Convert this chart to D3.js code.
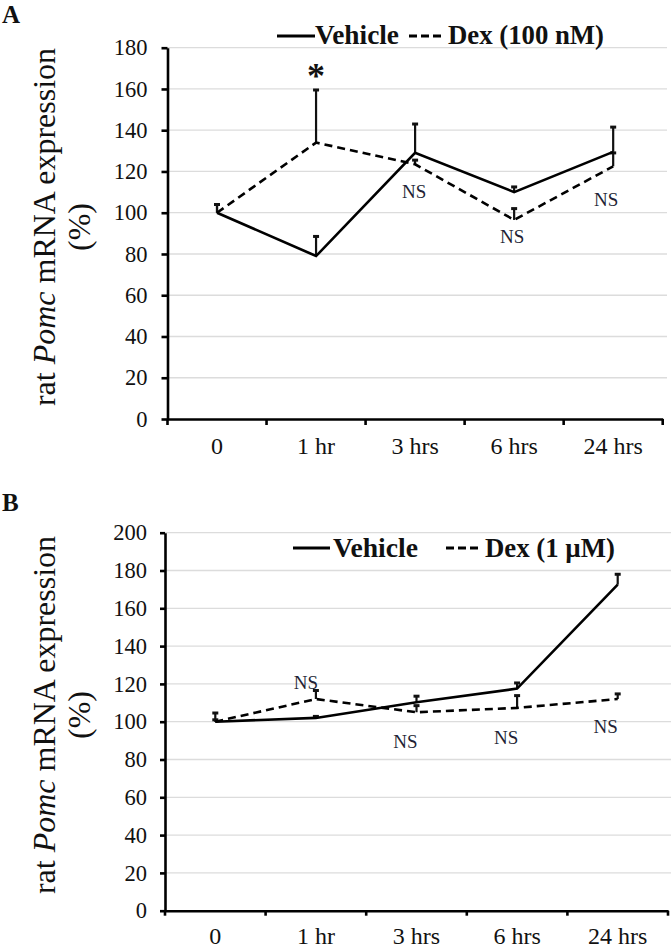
<!DOCTYPE html>
<html>
<head>
<meta charset="utf-8">
<script src="https://cdn.jsdelivr.net/npm/d3@7/dist/d3.min.js"></script>
<style>
  html, body { margin: 0; padding: 0; background: #fff; }
  svg { display: block; }
  text { font-family: "Liberation Serif", "Times New Roman", serif; }
</style>
</head>
<body>
<script>
// ---------- DATA ----------
const categories = ["0", "1 hr", "3 hrs", "6 hrs", "24 hrs"];

// Panel A: Vehicle vs Dex (100 nM)
const vehicleA    = [100, 79, 129, 110, 129.5];
const vehicleErrA = [4, 9.5, 14, 2.5, 12];
const dexA        = [100, 134, 123.5, 96.5, 122.5];
const dexErrA     = [4, 25.5, 2, 5.5, 6.5];
const yTicksA     = [0, 20, 40, 60, 80, 100, 120, 140, 160, 180];
const legendA     = ["Vehicle", "Dex (100 nM)"];
// annotations: [category, y-value in data units, text]
const notesA      = [["1 hr", 160, "*"], ["3 hrs", 107, "NS"], ["6 hrs", 85.2, "NS"], ["24 hrs", 103.4, "NS"]];

// Panel B: Vehicle vs Dex (1 µM)
const vehicleB    = [100, 102, 110.3, 117.5, 172.5];
const vehicleErrB = [1, 0.8, 3.2, 3, 5.5];
const dexB        = [100, 112, 105, 107.3, 112];
const dexErrB     = [4.6, 4.5, 3.5, 6.5, 2.7];
const yTicksB     = [0, 20, 40, 60, 80, 100, 120, 140, 160, 180, 200];
const legendB     = ["Vehicle", "Dex (1 \u00B5M)"];
const notesB      = [["1 hr", 117.1, "NS"], ["3 hrs", 85.9, "NS"], ["6 hrs", 88.2, "NS"], ["24 hrs", 94.2, "NS"]];

// ---------- DRAW ----------
const W = 671, H = 951;
const svg = d3.select("body").append("svg").attr("width", W).attr("height", H);

function panel(cfg) {
  const g = svg.append("g");
  const x = d3.scaleBand().domain(categories).range([cfg.x0, cfg.x1]);
  const y = d3.scaleLinear().domain([0, cfg.ymax]).range([cfg.yb, cfg.yt]);
  const cx = c => x(c) + x.bandwidth() / 2;

  // gridlines
  g.append("g").selectAll("line").data(cfg.yTicks.filter(t => t > 0)).join("line")
    .attr("x1", cfg.x0).attr("x2", cfg.gridEnd)
    .attr("y1", d => y(d)).attr("y2", d => y(d))
    .attr("stroke", "#dcdcdc").attr("stroke-width", 1.3);

  // y axis
  const ya = g.append("g").attr("transform", `translate(${cfg.x0},0)`)
    .call(d3.axisLeft(y).tickValues(cfg.yTicks).tickSize(cfg.tickLen).tickSizeOuter(0).tickPadding(cfg.yPad));
  ya.select(".domain").attr("stroke", "#000").attr("stroke-width", 2.6);
  ya.selectAll(".tick line").attr("stroke", "#000").attr("stroke-width", 2.6);
  ya.selectAll(".tick text").attr("font-size", 22.5).attr("fill", "#111")
    .attr("font-family", "Liberation Serif, serif");

  // x axis
  const xaxis = d3.axisBottom(x).tickSize(0).tickPadding(0);
  const xa = g.append("g").attr("transform", `translate(0,${cfg.yb})`).call(xaxis);
  xa.select(".domain").attr("stroke", "#000").attr("stroke-width", 2.6);
  xa.selectAll(".tick text").attr("font-size", 24).attr("fill", "#111")
    .attr("font-family", "Liberation Serif, serif")
    .attr("dy", null).attr("y", cfg.xLabelDy);
  // boundary tick marks
  const bounds = categories.map(c => x(c)).concat([cfg.x1]);
  g.append("g").selectAll("line").data(bounds).join("line")
    .attr("x1", d => d).attr("x2", d => d)
    .attr("y1", cfg.yb).attr("y2", cfg.yb + cfg.tickLen)
    .attr("stroke", "#000").attr("stroke-width", 2.6);

  // error bars (upper)
  function errBars(vals, errs) {
    const eg = g.append("g");
    categories.forEach((c, i) => {
      const top = vals[i] + errs[i];
      eg.append("line").attr("x1", cx(c)).attr("x2", cx(c))
        .attr("y1", y(vals[i])).attr("y2", y(top))
        .attr("stroke", "#111").attr("stroke-width", 2.2);
      eg.append("line").attr("x1", cx(c) - 3).attr("x2", cx(c) + 3)
        .attr("y1", y(top)).attr("y2", y(top))
        .attr("stroke", "#111").attr("stroke-width", 3);
    });
  }
  errBars(cfg.veh, cfg.vehErr);
  errBars(cfg.dex, cfg.dexErr);

  const line = d3.line().x((d, i) => cx(categories[i])).y(d => y(d));
  g.append("path").datum(cfg.dex).attr("d", line)
    .attr("fill", "none").attr("stroke", "#000").attr("stroke-width", 2.6)
    .attr("stroke-dasharray", "8,5");
  g.append("path").datum(cfg.veh).attr("d", line)
    .attr("fill", "none").attr("stroke", "#000").attr("stroke-width", 2.6);

  // annotations
  cfg.notes.forEach(n => {
    const isStar = n[2] === "*";
    g.append("text")
      .attr("x", cx(n[0]) + (isStar ? 0 : cfg.noteDx[n[0]]))
      .attr("y", y(n[1]) + (isStar ? -1 : 0))
      .attr("text-anchor", "middle")
      .attr("font-size", isStar ? 36 : 19)
      .attr("font-weight", isStar ? "bold" : "normal")
      .attr("fill", isStar ? "#111" : "#231f35")
      .text(n[2]);
  });

  // legend
  const L = cfg.legend;
  g.append("line").attr("x1", L.l1[0]).attr("x2", L.l1[1]).attr("y1", L.ly).attr("y2", L.ly)
    .attr("stroke", "#000").attr("stroke-width", 2.8);
  g.append("text").attr("x", L.t1[0]).attr("y", L.by).attr("font-size", 26.5).attr("font-weight", "bold")
    .attr("fill", "#111").attr("textLength", L.t1[1] - L.t1[0]).attr("lengthAdjust", "spacingAndGlyphs")
    .text(cfg.legendText[0]);
  g.append("line").attr("x1", L.l2[0]).attr("x2", L.l2[1]).attr("y1", L.ly).attr("y2", L.ly)
    .attr("stroke", "#000").attr("stroke-width", 2.8).attr("stroke-dasharray", "8,4");
  g.append("text").attr("x", L.t2[0]).attr("y", L.by).attr("font-size", 26.5).attr("font-weight", "bold")
    .attr("fill", "#111").attr("textLength", L.t2[1] - L.t2[0]).attr("lengthAdjust", "spacingAndGlyphs")
    .text(cfg.legendText[1]);

  // y label
  const yl = g.append("g").attr("transform", `translate(55,${cfg.labelCy}) rotate(-90)`);
  const t1 = yl.append("text").attr("text-anchor", "middle").attr("font-size", 32).attr("fill", "#111");
  t1.append("tspan").text("rat ");
  t1.append("tspan").attr("font-style", "italic").text("Pomc");
  t1.append("tspan").text(" mRNA expression");
  yl.append("text").attr("text-anchor", "middle").attr("font-size", 32).attr("fill", "#111")
    .attr("y", 35).text("(%)");

  // panel letter
  svg.append("text").attr("x", 2).attr("y", cfg.letterY).attr("font-size", 25).attr("font-weight", "bold")
    .attr("fill", "#111").text(cfg.letter);
}

panel({
  letter: "A", letterY: 23,
  x0: 167.5, x1: 662.7, gridEnd: 667, yb: 419, yt: 47.7, ymax: 180,
  yTicks: yTicksA, tickLen: 6, yPad: 14, xLabelDy: 35,
  veh: vehicleA, vehErr: vehicleErrA, dex: dexA, dexErr: dexErrA,
  notes: notesA, noteDx: {"3 hrs": -1, "6 hrs": -2, "24 hrs": -7},
  legendText: legendA,
  legend: { ly: 36, by: 43.5, l1: [277, 315], t1: [315, 399], l2: [409, 442], t2: [448, 604] },
  labelCy: 227
});

panel({
  letter: "B", letterY: 511,
  x0: 165, x1: 668, gridEnd: 671, yb: 910.7, yt: 532.7, ymax: 200,
  yTicks: yTicksB, tickLen: 5, yPad: 13, xLabelDy: 33,
  veh: vehicleB, vehErr: vehicleErrB, dex: dexB, dexErr: dexErrB,
  notes: notesB, noteDx: {"1 hr": -10, "3 hrs": -11, "6 hrs": -11, "24 hrs": -12},
  legendText: legendB,
  legend: { ly: 548, by: 556.7, l1: [293, 330], t1: [333, 418], l2: [446, 478], t2: [485, 615] },
  labelCy: 715
});
</script>
</body>
</html>
